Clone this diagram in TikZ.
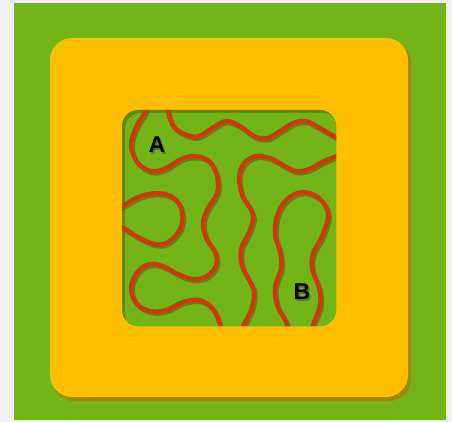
\documentclass[tikz,border=0pt]{standalone}
\usepackage{fontspec}
\setmainfont{Liberation Sans}
\definecolor{bggray}{RGB}{240,240,240}
\definecolor{grn}{RGB}{115,180,22}
\definecolor{grndark}{RGB}{88,140,14}
\definecolor{yel}{RGB}{255,190,0}
\definecolor{yshadow}{RGB}{150,140,10}
\definecolor{wirered}{RGB}{214,52,14}
\definecolor{wireshade}{RGB}{70,105,10}
\tikzset{
  wire/.style={draw=wirered, line width=4.2pt, line cap=round},
  wireshadow/.style={draw=wireshade, line width=4.6pt, line cap=round, opacity=0.6},
  lbl/.style={font=\bfseries\fontsize{23}{23}\selectfont, text=black, inner sep=0pt},
  lblshadow/.style={font=\bfseries\fontsize{23}{23}\selectfont, text=wireshade, inner sep=0pt, opacity=0.7}
}
\newcommand\wireA{plot[smooth, tension=0.6] coordinates {(148,100) (145,112) (136,127) (131,145) (137,162) (151,171) (166,168) (181,159) (195,156) (209,161) (217,176) (217,193) (208,208) (203,222) (206,238) (215,252) (216,265) (207,276) (193,279) (178,274) (163,266) (150,264) (138,271) (131,287) (136,303) (150,311) (166,310) (183,302) (200,300) (213,309) (220,325) (222,334)}}
\newcommand\wireB{plot[smooth, tension=0.6] coordinates {(110,210) (122,206) (138,197) (157,193) (174,198) (182,212) (180,229) (168,242) (155,244) (138,237) (122,227) (110,223)}}
\newcommand\wireC{plot[smooth, tension=0.6] coordinates {(167,100) (168,112) (174,127) (187,135) (199,136) (212,128) (226,121) (240,126) (254,136) (267,138) (280,131) (293,123) (306,121) (320,128) (334,136) (346,141)}}
\newcommand\wireD{plot[smooth, tension=0.6] coordinates {(346,152) (334,157) (322,162) (309,169) (296,171) (283,165) (270,158) (256,156) (244,163) (239,177) (242,195) (250,208) (253,218) (249,232) (241,249) (242,266) (250,282) (254,293) (251,310) (243,326) (240,336)}}
\newcommand\wireE{plot[smooth, tension=0.6] coordinates {(292,336) (285,320) (277,305) (275,287) (281,268) (280,252) (275,235) (277,216) (286,200) (302,192) (319,198) (328,214) (322,236) (313,253) (312,269) (319,288) (320,305) (314,322) (310,336)}}
\begin{document}
\begin{tikzpicture}[x=1pt,y=-1pt]
\useasboundingbox (0,0) rectangle (452,422);
\fill[bggray] (0,0) rectangle (452,422);
\fill[grn] (14,3) rectangle (446,420);
% yellow frame with its shadow
\fill[yshadow, rounded corners=22pt] (52,41) rectangle (411,401);
\fill[yel, rounded corners=22pt] (50,38) rectangle (408,397);
% inner green window
\fill[grndark, rounded corners=16pt] (122,110) rectangle (336,326);
\begin{scope}
  \clip[rounded corners=16pt] (122,110) rectangle (336,326);
  \fill[grn, rounded corners=16pt] (125,113) rectangle (340,330);
  \begin{scope}[shift={(1.5,2)}]
    \draw[wireshadow] \wireA;
    \draw[wireshadow] \wireB;
    \draw[wireshadow] \wireC;
    \draw[wireshadow] \wireD;
    \draw[wireshadow] \wireE;
  \end{scope}
  \draw[wire] \wireA;
  \draw[wire] \wireB;
  \draw[wire] \wireC;
  \draw[wire] \wireD;
  \draw[wire] \wireE;
\end{scope}
\node[lblshadow] (lAs) at (158.5,146.5) {A};
\node[lbl] (lA) at (157,145) {A};
\node[lblshadow] (lBs) at (303.5,293.5) {B};
\node[lbl] (lB) at (302,292) {B};
\end{tikzpicture}
\end{document}
